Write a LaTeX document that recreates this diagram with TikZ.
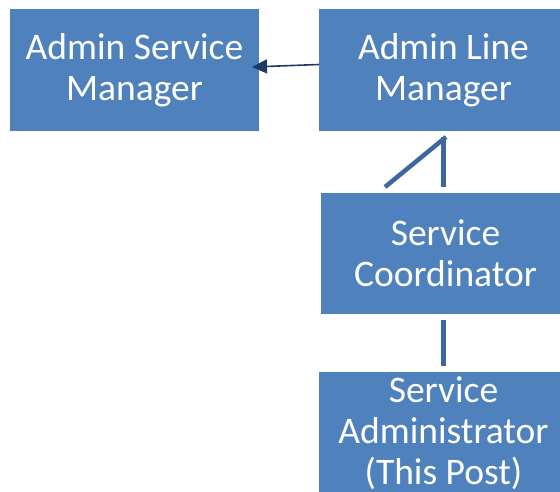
\documentclass[tikz,border=0pt]{standalone}
\usepackage{fontspec}
\setmainfont{Carlito}
\usetikzlibrary{arrows.meta}
\definecolor{boxblue}{HTML}{4F81BD}
\definecolor{linkblue}{HTML}{3E679E}
\definecolor{arrowblue}{HTML}{1F3A62}
\tikzset{
  orgbox/.style={fill=boxblue, draw=none, minimum width=249pt, minimum height=122pt,
    inner sep=0pt, text=white, align=center, font=\fontsize{37.5}{41}\selectfont},
  link/.style={draw=linkblue, line width=4.5pt},
  reportarrow/.style={draw=arrowblue, line width=1.6pt, -{Triangle[length=15pt,width=14pt]}}
}
\begin{document}
\begin{tikzpicture}[x=1pt,y=1pt]
\useasboundingbox (0,0) rectangle (560,-491);
\begin{scope}
\clip (0,0) rectangle (560,-491);
\node[orgbox] (asm) at (134.5,-70) {Admin Service\\Manager};
\node[orgbox] (alm) at (443.5,-70) {Admin Line\\Manager};
\node[orgbox, minimum height=121pt] (sc) at (445.5,-253.5) {Service\\Coordinator};
\node[orgbox] (sa) at (443.5,-433) {Service\\Administrator\\(This Post)};
\end{scope}
\coordinate (d1) at (446,-137);
\coordinate (d2) at (385,-187);
\coordinate (v1) at (443.5,-137);
\coordinate (v2) at (443.5,-187);
\coordinate (w1) at (443.5,-320);
\coordinate (w2) at (443.5,-366);
\draw[link] (d1) -- (d2);
\draw[link] (v1) -- (v2);
\draw[link] (w1) -- (w2);
\draw[reportarrow] (alm.west |- 0,-64.5) -- (252,-67);
\end{tikzpicture}
\end{document}
